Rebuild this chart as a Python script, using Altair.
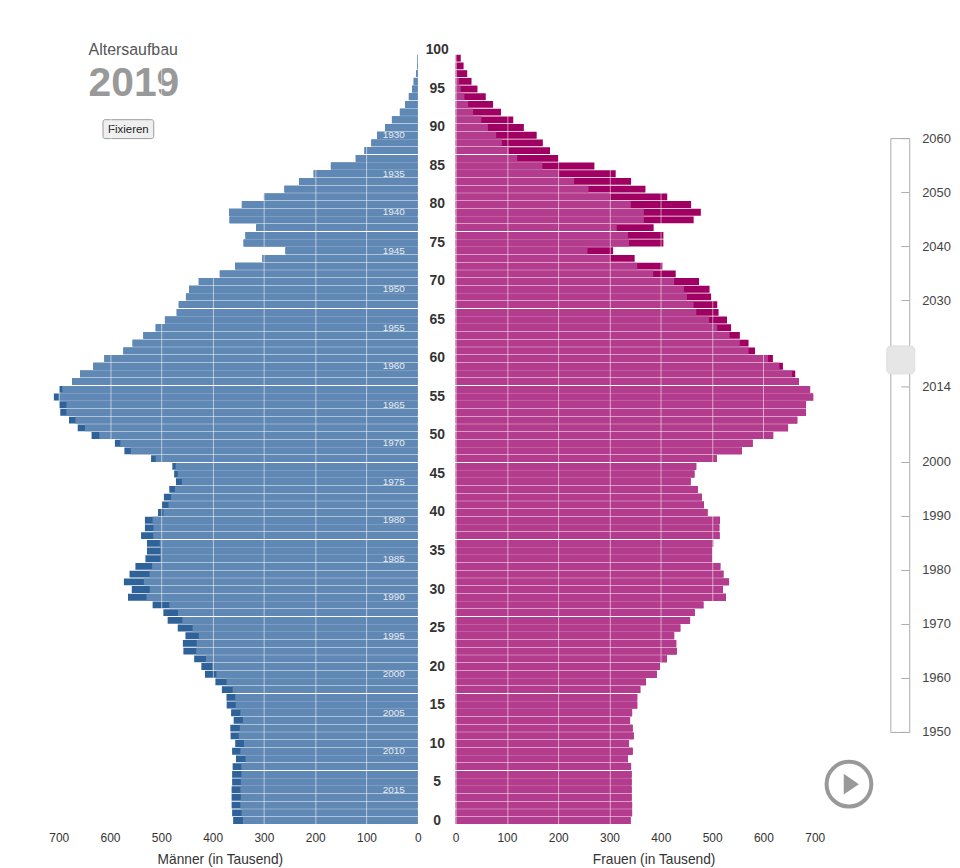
import altair as alt
import pandas as pd

# Values per age, from age 0 up to age 100 (in thousands)
ages = list(range(0, 101))
men_light = [341, 343.5, 346, 345, 346, 345, 344, 344, 336, 346, 339, 349, 347, 341, 346, 355, 356, 361, 372.6, 392.6,
             401, 413, 432, 431, 427, 439, 459, 467.6, 484.5, 529, 522.6, 534, 523, 518, 502, 502, 503, 516, 515.5, 517,
             496, 486, 481, 473.5, 460, 468, 472, 511, 559.5, 580, 621, 649, 667.5, 685, 685, 700, 693, 674, 658.5, 632.6,
             611, 574, 556, 535, 511, 493, 470, 466, 452, 446, 427, 386, 356, 303, 258, 339.6, 336, 315, 367, 368,
             343, 300, 260, 231.6, 203, 169.5, 121, 104, 90.6, 79.6, 64, 50.5, 35, 25, 17.5, 11, 8, 3, 1.5, 1, 0]
men_dark = [360, 362, 363, 363, 363, 362, 362, 361, 354.5, 362, 356, 365, 365.5, 359, 364, 372.6, 373, 382, 394.6, 415,
            422, 436, 457, 458, 453, 468, 487.7, 496, 517, 565, 557.6, 573, 562, 550.5, 531, 528, 528, 539.5, 532, 532,
            506.5, 498.7, 495, 484.5, 471.5, 475, 478.6, 520, 572, 590.5, 636, 663, 680, 697, 699, 709.5, 699, 674, 658.5, 632.6,
            611, 574, 556, 535, 511, 493, 470, 466, 452, 446, 427, 386, 356, 303, 258, 339.6, 336, 315, 367, 368,
            343, 300, 260, 231.6, 203, 169.5, 121, 104, 90.6, 79.6, 64, 50.5, 35, 25, 17.5, 11, 8, 3, 1.5, 1, 0]
women_light = [341, 344, 344, 343, 343, 343, 343, 342, 336, 345, 338, 347, 345, 340, 344, 354, 354, 360, 371, 392,
               398, 412, 431, 430, 426, 438, 457, 466, 483, 527, 521, 533, 522, 516, 500, 500, 502, 514.5, 514, 515,
               491, 484, 480, 472, 458, 465.5, 469, 509, 558, 579, 619, 648, 666, 683, 683, 697, 691, 669, 656, 631,
               609, 571, 554, 534, 510, 494, 469, 464, 451, 445, 426, 385, 354, 302, 257, 338, 336, 314, 367, 367,
               341.5, 300, 259, 231, 202, 169, 120, 104, 90, 79, 63, 50, 34, 24.5, 17, 10, 6.5, 3, 2, 0, 0]
women_dark = [341, 344, 344, 343, 343, 343, 343, 342, 336, 345, 338, 347, 345, 340, 344, 354, 354, 360, 371, 392,
              398, 412, 431, 430, 426, 438, 457, 466, 483, 527, 521, 533, 522, 516, 500, 500, 502, 514.5, 514, 515,
              491, 484, 480, 472, 458, 465.5, 469, 509, 558, 579, 619, 648, 666, 683, 683, 697, 691, 669, 662, 638,
              618.5, 583.6, 571, 554, 537, 529, 512.6, 510, 498, 495, 474.5, 429, 403, 349, 307, 405, 405, 386, 464, 478,
              459, 412.5, 370, 342, 312, 270.5, 200, 184, 170, 158, 133, 112.3, 88.4, 73, 58.7, 42.6, 31, 22.6, 15.5, 10, 0]
age_ticks = list(range(0, 101, 5))
x_ticks = [0, 100, 200, 300, 400, 500, 600, 700]
cohort_years = list(range(1930, 2016, 5))
reference_year = 2019
slider_years = [1950, 1960, 1970, 1980, 1990, 2000, 2014, 2030, 2040, 2050, 2060]

FONT = "Liberation Sans"
BLUE, BLUE_DARK = "#6088b4", "#2f6299"
PINK, PINK_DARK = "#b33c8e", "#a00061"
GRAY = "#999999"

df = pd.DataFrame({"age": ages, "men_light": men_light, "men_dark": men_dark,
                   "women_light": women_light, "women_dark": women_dark})
cohorts = pd.DataFrame({"year": cohort_years, "age": [reference_year - y for y in cohort_years]})
years = pd.DataFrame({"year": slider_years})
one = pd.DataFrame({"k": [0]})

W, H = 361, 781
age_scale = alt.Scale(domain=ages[::-1], paddingInner=0.11, paddingOuter=0, round=False)


def x_axis(title, title_x):
    return alt.Axis(values=x_ticks, title=title, grid=True, gridColor="white", gridOpacity=0.55, gridWidth=1,
                    zindex=1, ticks=False, domain=False, labelPadding=9, labelFontSize=12, labelColor="#333333",
                    labelFont=FONT, labelFlush=False, titleFont=FONT, titleFontSize=13.8, titleFontWeight="normal",
                    titleColor="#333333", titleX=title_x, titleY=40, titleAlign="center", titleBaseline="alphabetic")


def note(text, x, y, size, color, weight="normal", align="left"):
    return alt.Chart(one).mark_text(text=text, font=FONT, fontSize=size, color=color, fontWeight=weight,
                                    align=align, baseline="middle").encode(x=alt.value(x), y=alt.value(y))


men_x = alt.Scale(domain=[700, 0])
men_dark_bars = alt.Chart(df).mark_bar(color=BLUE_DARK).encode(
    x=alt.X("men_dark:Q", scale=men_x, axis=x_axis("Männer (in Tausend)", 162)),
    y=alt.Y("age:O", scale=age_scale, axis=None))
men_light_bars = alt.Chart(df).mark_bar(color=BLUE).encode(
    x=alt.X("men_light:Q", scale=men_x, axis=x_axis("Männer (in Tausend)", 162)),
    y=alt.Y("age:O", scale=age_scale, axis=None))
cohort_text = alt.Chart(cohorts).mark_text(font=FONT, fontSize=10, color="#ffffff", opacity=0.85, align="right",
                                           baseline="middle").encode(
    x=alt.value(348), y=alt.Y("age:O", scale=age_scale, axis=None), text="year:N")
button = alt.Chart(one).mark_rect(fill="#efefef", stroke="#9a9a9a", strokeWidth=1, cornerRadius=2).encode(
    x=alt.value(44.5), x2=alt.value(95.5), y=alt.value(73), y2=alt.value(92))
left = alt.layer(men_dark_bars, men_light_bars, cohort_text,
                 note("Altersaufbau", 30, 3, 16, "#555555"),
                 note(str(reference_year), 30, 37, 41, GRAY, "bold"),
                 button,
                 note("Fixieren", 70, 83, 11.5, "#222222", align="center")).properties(width=W, height=H)

women_x = alt.Scale(domain=[0, 700])
age_axis = alt.Axis(values=age_ticks, title=None, ticks=False, domain=False, grid=False, labelAlign="center",
                    labelPadding=19, labelFont=FONT, labelFontSize=14, labelFontWeight="bold", labelColor="#333333")
women_dark_bars = alt.Chart(df).mark_bar(color=PINK_DARK).encode(
    x=alt.X("women_dark:Q", scale=women_x, axis=x_axis("Frauen (in Tausend)", 199)),
    y=alt.Y("age:O", scale=age_scale, axis=age_axis))
women_light_bars = alt.Chart(df).mark_bar(color=PINK).encode(
    x=alt.X("women_light:Q", scale=women_x, axis=x_axis("Frauen (in Tausend)", 199)),
    y=alt.Y("age:O", scale=age_scale, axis=age_axis))
play_ring = alt.Chart(one).mark_point(shape="circle", size=2025, filled=False, stroke=GRAY, strokeWidth=4,
                                      opacity=1).encode(x=alt.value(395.4), y=alt.value(741))
play_arrow = alt.Chart(one).mark_point(shape="M-0.7,-1L0.75,0L-0.7,1Z", size=441, filled=True, fill=GRAY,
                                       strokeWidth=0, opacity=1).encode(x=alt.value(397.5), y=alt.value(741))
right = alt.layer(women_dark_bars, women_light_bars, play_ring, play_arrow).properties(width=W, height=H)

slider_y = alt.Scale(domain=[1950, 2060], range=[689, 92])
track = alt.Chart(one).mark_rect(fill="#ffffff", stroke="#aaaaaa", strokeWidth=1).encode(
    x=alt.value(38.5), x2=alt.value(57.5), y=alt.value(92), y2=alt.value(689))
slider_ticks = alt.Chart(years).mark_rule(color="#aaaaaa", strokeWidth=1).encode(
    x=alt.value(49), x2=alt.value(57), y=alt.Y("year:Q", scale=slider_y, axis=None))
slider_labels = alt.Chart(years).mark_text(font=FONT, fontSize=13, color="#444444", align="left",
                                           baseline="middle").encode(
    x=alt.value(70), y=alt.Y("year:Q", scale=slider_y, axis=None), text="year:N")
thumb = alt.Chart(one).mark_rect(fill="#e6e6e6", stroke="#dddddd", strokeWidth=1, cornerRadius=4).encode(
    x=alt.value(34.5), x2=alt.value(62.5), y=alt.value(300.5), y2=alt.value(328.5))
slider = alt.layer(track, slider_ticks, slider_labels, thumb).properties(width=100, height=H)

chart = alt.hconcat(
    left, right, slider, spacing=38, bounds="flush",
    padding={"left": 40, "top": 32, "right": 0, "bottom": 0}).configure_view(stroke=None)

chart.save("out.html", embed_options={"renderer": "svg", "actions": False})
